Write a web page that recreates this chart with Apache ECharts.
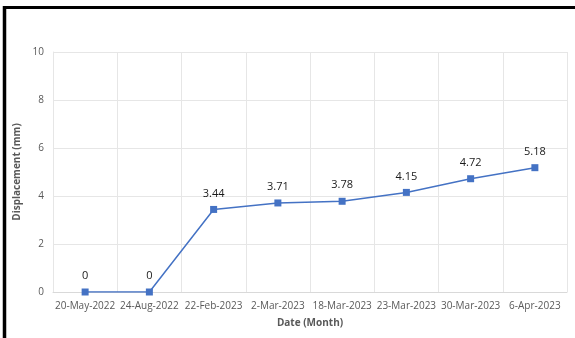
<!DOCTYPE html>
<html>
<head>
<meta charset="utf-8">
<script src="https://cdn.jsdelivr.net/npm/echarts@6/dist/echarts.min.js"></script>
<style>
  html, body { margin: 0; padding: 0; background: #fff; }
  #chart { width: 575px; height: 338px; }
</style>
</head>
<body>
<div id="chart"></div>
<script>
// Survey dates and measured displacement
const dates = ['20-May-2022', '24-Aug-2022', '22-Feb-2023', '2-Mar-2023', '18-Mar-2023', '23-Mar-2023', '30-Mar-2023', '6-Apr-2023'];
const displacement = [0, 0, 3.44, 3.71, 3.78, 4.15, 4.72, 5.18];
const yTicks = [0, 2, 4, 6, 8, 10];

const FONT = '"Open Sans", "Liberation Sans", sans-serif';
const chart = echarts.init(document.getElementById('chart'), null, { renderer: 'canvas' });

chart.setOption({
  animation: false,
  backgroundColor: '#ffffff',
  textStyle: { fontFamily: FONT },
  grid: { left: 53, right: 8, top: 52, bottom: 46, containLabel: false },
  graphic: [
    { type: 'line', shape: { x1: 3, y1: 7.5, x2: 575, y2: 7.5 }, style: { stroke: '#000', lineWidth: 3 } },
    { type: 'line', shape: { x1: 4.5, y1: 6, x2: 4.5, y2: 338 }, style: { stroke: '#000', lineWidth: 3.5 } }
  ],
  xAxis: {
    type: 'category',
    data: dates,
    boundaryGap: true,
    name: 'Date (Month)',
    nameLocation: 'middle',
    nameGap: 26,
    nameTextStyle: { fontFamily: FONT, fontSize: 10, fontWeight: 'bold', color: '#595959' },
    axisLine: { show: true, lineStyle: { color: '#d9d9d9', width: 1 } },
    axisTick: { show: false },
    axisLabel: { interval: 0, fontFamily: FONT, fontSize: 10, color: '#595959', margin: 9 },
    splitLine: { show: true, interval: 0, lineStyle: { color: '#e6e6e6', width: 1 } }
  },
  yAxis: {
    type: 'value',
    min: yTicks[0],
    max: yTicks[yTicks.length - 1],
    interval: 2,
    name: 'Displacement (mm)',
    nameLocation: 'middle',
    nameGap: 31,
    nameTextStyle: { fontFamily: FONT, fontSize: 10, fontWeight: 'bold', color: '#595959' },
    axisLine: { show: true, lineStyle: { color: '#e6e6e6', width: 1 } },
    axisTick: { show: false },
    axisLabel: { fontFamily: FONT, fontSize: 10, color: '#595959', margin: 9 },
    splitLine: { show: true, lineStyle: { color: '#e6e6e6', width: 1 } }
  },
  series: [{
    type: 'line',
    data: displacement,
    symbol: 'rect',
    symbolSize: 7,
    lineStyle: { color: '#4472c4', width: 1.5 },
    itemStyle: { color: '#4472c4' },
    label: {
      show: true,
      position: 'top',
      distance: 7,
      fontFamily: FONT,
      fontSize: 11,
      color: '#1a1a1a',
      formatter: p => String(p.value)
    }
  }]
});
</script>
</body>
</html>
